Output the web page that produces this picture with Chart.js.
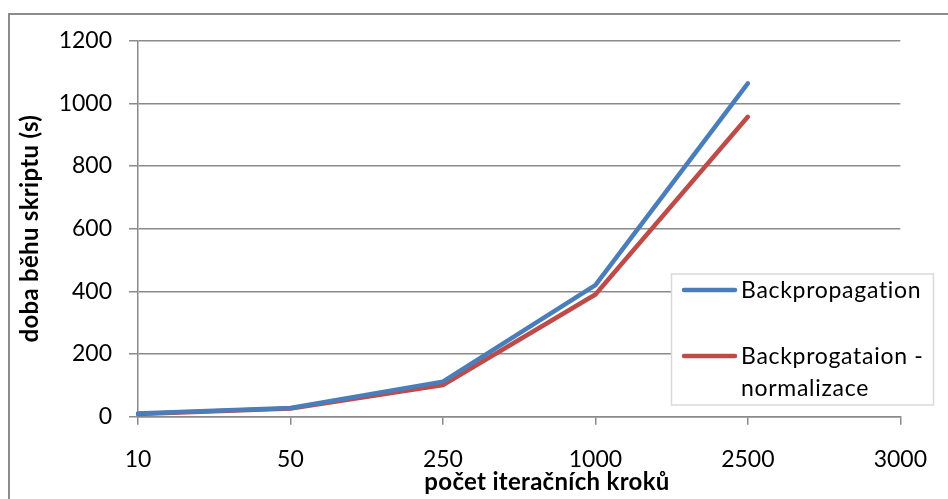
<!DOCTYPE html>
<html>
<head>
<meta charset="utf-8">
<script src="https://cdn.jsdelivr.net/npm/chart.js@4.4.1/dist/chart.umd.min.js"></script>
<style>
  html, body { margin: 0; padding: 0; background: #ffffff; }
  #wrap { width: 948px; height: 499px; position: relative; }
</style>
</head>
<body>
<div id="wrap"><canvas id="chart" width="948" height="499"></canvas></div>
<script>
// Number of iteration steps (category axis)
const steps = ['10', '50', '250', '1000', '2500', '3000'];
// Script run time in seconds
const backprop = [10, 28, 112, 420, 1064];
const backpropNorm = [9, 26, 101, 390, 957];
// Series names and how they wrap in the legend
const seriesNames = ['Backpropagation', 'Backprogataion - normalizace'];
const legendLines = [['Backpropagation'], ['Backprogataion -', 'normalizace']];
// Axis titles
const xTitle = 'počet iteračních kroků';
const yTitle = 'doba běhu skriptu (s)';

const FONT = 'Lato, "Open Sans", sans-serif';
const GRID = '#8a8a8a';

// White page with a grey frame on the left and top edges
const framePlugin = {
  id: 'frame',
  beforeDraw(chart) {
    const c = chart.ctx;
    c.save();
    c.fillStyle = '#ffffff';
    c.fillRect(0, 0, chart.width, chart.height);
    c.strokeStyle = '#8c8c8c';
    c.lineWidth = 2;
    c.beginPath();
    c.moveTo(9, chart.height);
    c.lineTo(9, 14);
    c.lineTo(chart.width, 14);
    c.stroke();
    c.restore();
  }
};

// Axis titles
const titlePlugin = {
  id: 'axisTitles',
  afterDraw(chart) {
    const c = chart.ctx;
    const a = chart.chartArea;
    c.save();
    c.fillStyle = '#000000';
    c.font = 'bold 24px ' + FONT;
    c.letterSpacing = '0.3px';
    c.textAlign = 'center';
    c.textBaseline = 'alphabetic';
    c.fillText(xTitle, 547, 490);
    c.translate(38, (a.top + a.bottom) / 2);
    c.rotate(-Math.PI / 2);
    c.fillText(yTitle, 0, 0);
    c.restore();
  }
};

// Boxed legend inside the plot area
const legendPlugin = {
  id: 'boxLegend',
  afterDatasetsDraw(chart) {
    const c = chart.ctx;
    const box = { x: 671.5, y: 274, w: 262, h: 131 };
    c.save();
    c.fillStyle = '#ffffff';
    c.fillRect(box.x, box.y, box.w, box.h);
    c.strokeStyle = '#d9d9d9';
    c.lineWidth = 1.5;
    c.strokeRect(box.x, box.y, box.w, box.h);
    const rows = [290, 356];
    const baselines = [297.7, 363.5];
    c.font = '23px ' + FONT;
    c.letterSpacing = '0.7px';
    c.textBaseline = 'alphabetic';
    c.textAlign = 'left';
    chart.data.datasets.forEach((ds, i) => {
      const y = rows[i];
      c.strokeStyle = ds.borderColor;
      c.lineWidth = 4.5;
      c.lineCap = 'round';
      c.beginPath();
      c.moveTo(684, y);
      c.lineTo(735, y);
      c.stroke();
      c.fillStyle = '#000000';
      legendLines[i].forEach((t, k) => c.fillText(t, 741, baselines[i] + k * 32));
    });
    c.restore();
  }
};

new Chart(document.getElementById('chart'), {
  type: 'line',
  data: {
    labels: steps,
    datasets: [
      {
        label: seriesNames[0],
        data: backprop,
        borderColor: '#4a7ebb',
        backgroundColor: '#4a7ebb',
        borderWidth: 4.5,
        borderCapStyle: 'round',
        borderJoinStyle: 'round',
        pointRadius: 0,
        tension: 0
      },
      {
        label: seriesNames[1],
        data: backpropNorm,
        borderColor: '#be4b48',
        backgroundColor: '#be4b48',
        borderWidth: 4.5,
        borderCapStyle: 'round',
        borderJoinStyle: 'round',
        pointRadius: 0,
        tension: 0
      }
    ]
  },
  options: {
    responsive: false,
    animation: false,
    events: [],
    layout: { padding: { left: 0, top: 40.7, right: 41, bottom: 0 } },
    plugins: {
      legend: { display: false },
      tooltip: { enabled: false },
      title: { display: false }
    },
    scales: {
      x: {
        offset: false,
        grid: {
          display: true,
          drawOnChartArea: false,
          drawTicks: true,
          tickLength: 8,
          color: GRID,
          lineWidth: 1.5
        },
        border: { display: true, color: GRID, width: 1.5 },
        ticks: {
          color: '#000000',
          font: { family: FONT, size: 23 },
          padding: 21,
          maxRotation: 0,
          autoSkip: false
        },
        afterFit(scale) { scale.height = 499 - 416.7; }
      },
      y: {
        min: 0,
        max: 1200,
        grid: {
          color: GRID,
          lineWidth: 1.5,
          drawTicks: true,
          tickLength: 9
        },
        border: { display: true, color: GRID, width: 1.5 },
        ticks: {
          stepSize: 200,
          color: '#000000',
          font: { family: FONT, size: 23 },
          padding: 17,
          callback: (v) => String(v)
        },
        afterFit(scale) { scale.width = 138; }
      }
    }
  },
  plugins: [framePlugin, legendPlugin, titlePlugin]
});
</script>
</body>
</html>
